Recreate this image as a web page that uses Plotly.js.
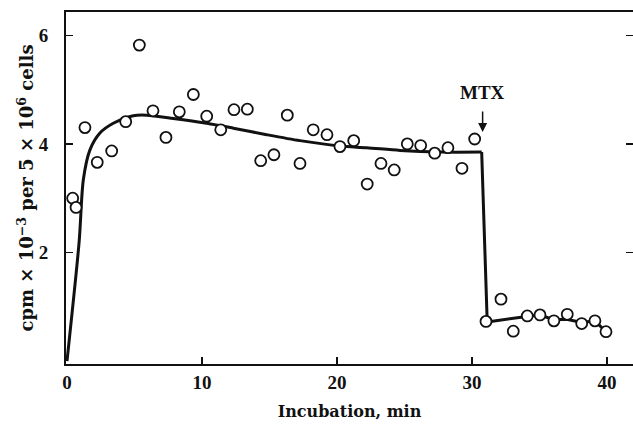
<!DOCTYPE html>
<html>
<head>
<meta charset="utf-8">
<script src="https://cdn.plot.ly/plotly-3.0.1.min.js"></script>
<style>html,body{margin:0;padding:0;background:#fff;}#chart{width:633px;height:424px;}</style>
</head>
<body>
<div id="chart"></div>
<script>
// Measured points (open circles)
const timeMin = [0.42,0.67,1.33,2.24,3.31,4.35,5.36,6.37,7.33,8.32,9.36,10.35,11.39,12.37,13.36,14.35,15.33,16.32,17.26,18.24,19.26,20.22,21.24,22.24,23.26,24.24,25.21,26.2,27.24,28.22,29.26,30.2,31.04,32.15,33.06,34.1,35.04,36.07,37.06,38.13,39.11,39.93];
const cpmValues = [3.00,2.83,4.30,3.66,3.87,4.41,5.82,4.61,4.12,4.59,4.91,4.51,4.26,4.63,4.64,3.69,3.80,4.53,3.64,4.26,4.17,3.95,4.06,3.26,3.64,3.52,4.00,3.97,3.83,3.93,3.55,4.09,0.73,1.14,0.55,0.83,0.85,0.74,0.86,0.69,0.74,0.54];

// Fitted curve before MTX (smooth)
const fitTime = [0,0.9,1.21,1.7,2.44,3.43,4.91,5.9,7.87,10.35,12.32,14.79,17.26,20.22,22.2,24.67,27.63,30.72];
const fitValue = [0,2.2,3.34,3.89,4.2,4.38,4.52,4.53,4.47,4.38,4.29,4.17,4.06,3.96,3.93,3.88,3.85,3.85];

// Curve after MTX addition (drop and plateau)
const dropTime = [30.72,31.13,34.05,35.04,36.02,37.01,38.13,39.11,39.93];
const dropValue = [3.85,0.72,0.82,0.85,0.76,0.77,0.71,0.74,0.54];

const xTicks = [0,10,20,30,40];
const yTicks = [2,4,6];

const tickFont = {family:'"Liberation Serif", serif', size:19, color:'#111', weight:'bold'};
const xTitleFont = {family:'"DejaVu Serif", serif', size:16, color:'#111', weight:'bold'};
const yTitleFont = {family:'"DejaVu Serif", serif', size:18, color:'#111', weight:'bold'};

const traces = [
  {x:fitTime, y:fitValue, mode:'lines', line:{color:'#111', width:3, shape:'spline', smoothing:0.8}, hoverinfo:'skip'},
  {x:dropTime, y:dropValue, mode:'lines', line:{color:'#111', width:3}, hoverinfo:'skip'},
  {x:timeMin, y:cpmValues, mode:'markers', marker:{symbol:'circle', size:11, color:'#fff', line:{color:'#111', width:1.8}}}
];

const layout = {
  width:633, height:424,
  margin:{l:66, r:0, t:12, b:60},
  paper_bgcolor:'#fff', plot_bgcolor:'#fff',
  showlegend:false,
  font:{family:'"Liberation Serif", serif', color:'#111'},
  xaxis:{
    range:[-0.074,41.93], tickvals:xTicks, ticktext:xTicks.map(String),
    ticks:'inside', ticklen:7, tickwidth:1.5, tickcolor:'#111',
    showline:true, linecolor:'#111', linewidth:2, mirror:true,
    showgrid:false, zeroline:false,
    tickfont:tickFont, ticklabelstandoff:0,
    title:{text:'Incubation, min', font:xTitleFont, standoff:14}
  },
  yaxis:{
    range:[-0.055,6.43], tickvals:yTicks, ticktext:yTicks.map(String),
    ticks:'inside', ticklen:7, tickwidth:1.5, tickcolor:'#111',
    showline:true, linecolor:'#111', linewidth:2, mirror:'ticks',
    showgrid:false, zeroline:false,
    tickfont:tickFont, ticklabelstandoff:12,
    title:{text:'cpm × 10<sup>−3</sup> per 5 × 10<sup>6</sup> cells', font:yTitleFont, standoff:0}
  },
  annotations:[
    {x:30.79, y:4.22, xref:'x', yref:'y', text:'', showarrow:true, ax:0, ay:-22, arrowhead:2, arrowsize:1.2, arrowwidth:1.5, arrowcolor:'#111'},
    {x:30.79, y:4.94, xref:'x', yref:'y', text:'<b>MTX</b>', showarrow:false, font:{family:'"Liberation Serif", serif', size:19, color:'#111'}}
  ]
};

Plotly.newPlot('chart', traces, layout, {staticPlot:true, displayModeBar:false});
</script>
</body>
</html>
